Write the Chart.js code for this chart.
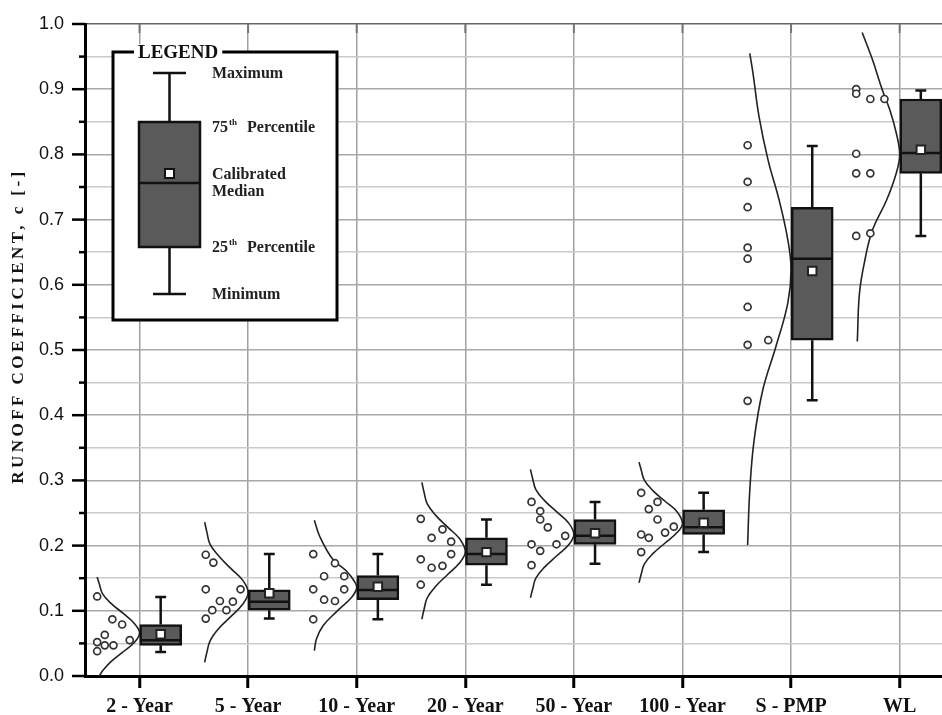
<!DOCTYPE html>
<html>
<head>
<meta charset="utf-8">
<script src="https://cdn.jsdelivr.net/npm/chart.js@4.4.1/dist/chart.umd.min.js"></script>
<style>
  html, body { margin: 0; padding: 0; background: #fff; }
  #wrap { width: 942px; height: 715px; position: relative; }
</style>
</head>
<body>
<div id="wrap"><canvas id="chartRunoff"></canvas></div>
<script>
// categories and tick labels
const categories = ["2 - Year", "5 - Year", "10 - Year", "20 - Year", "50 - Year", "100 - Year", "S - PMP", "WL"];
const yTickLabels = ["0.0", "0.1", "0.2", "0.3", "0.4", "0.5", "0.6", "0.7", "0.8", "0.9", "1.0"];

// box plot statistics
const boxMin = [0.037, 0.088, 0.087, 0.140, 0.172, 0.190, 0.423, 0.675];
const boxQ1 = [0.047, 0.101, 0.117, 0.170, 0.202, 0.217, 0.515, 0.771];
const boxMedian = [0.055, 0.114, 0.132, 0.187, 0.215, 0.228, 0.640, 0.802];
const boxQ3 = [0.079, 0.132, 0.154, 0.212, 0.240, 0.255, 0.719, 0.885];
const boxMax = [0.121, 0.187, 0.187, 0.240, 0.267, 0.281, 0.813, 0.898];
const calibratedMedian = [0.064, 0.127, 0.137, 0.190, 0.219, 0.235, 0.621, 0.807];

// observed values: [runoff coefficient, horizontal offset from category]
const obs2Year = [[0.122, -0.39], [0.087, -0.25], [0.079, -0.16], [0.063, -0.32], [0.055, -0.09], [0.052, -0.39], [0.047, -0.32], [0.047, -0.24], [0.038, -0.39]];
const obs5Year = [[0.186, -0.39], [0.174, -0.32], [0.133, -0.39], [0.133, -0.07], [0.115, -0.26], [0.114, -0.14], [0.101, -0.33], [0.101, -0.20], [0.088, -0.39]];
const obs10Year = [[0.187, -0.40], [0.173, -0.20], [0.153, -0.30], [0.153, -0.115], [0.133, -0.40], [0.133, -0.115], [0.117, -0.30], [0.115, -0.20], [0.087, -0.40]];
const obs20Year = [[0.241, -0.41], [0.225, -0.21], [0.212, -0.31], [0.206, -0.13], [0.187, -0.13], [0.179, -0.41], [0.169, -0.21], [0.166, -0.31], [0.140, -0.41]];
const obs50Year = [[0.267, -0.39], [0.253, -0.31], [0.240, -0.31], [0.228, -0.24], [0.215, -0.08], [0.202, -0.39], [0.202, -0.16], [0.192, -0.31], [0.170, -0.39]];
const obs100Year = [[0.281, -0.38], [0.267, -0.23], [0.256, -0.31], [0.240, -0.23], [0.229, -0.08], [0.220, -0.16], [0.217, -0.38], [0.212, -0.31], [0.190, -0.38]];
const obsSPMP = [[0.814, -0.40], [0.758, -0.40], [0.719, -0.40], [0.657, -0.40], [0.640, -0.40], [0.566, -0.40], [0.515, -0.21], [0.508, -0.40], [0.422, -0.40]];
const obsWL = [[0.900, -0.40], [0.893, -0.40], [0.885, -0.27], [0.885, -0.14], [0.801, -0.40], [0.771, -0.40], [0.771, -0.27], [0.679, -0.27], [0.675, -0.40]];

// fitted distribution outlines: [runoff coefficient, horizontal offset from category]
const curve2Year = [[0.152, -0.39], [0.141, -0.37], [0.126, -0.34], [0.111, -0.26], [0.096, -0.15], [0.081, -0.05], [0.066, 0], [0.051, -0.05], [0.036, -0.16], [0.021, -0.27], [0.008, -0.34], [0.0, -0.37]];
const curve5Year = [[0.236, -0.40], [0.221, -0.38], [0.202, -0.35], [0.184, -0.27], [0.165, -0.16], [0.147, -0.05], [0.128, 0], [0.110, -0.05], [0.091, -0.16], [0.073, -0.27], [0.054, -0.35], [0.036, -0.38], [0.021, -0.40]];
const curve10Year = [[0.239, -0.39], [0.214, -0.34], [0.179, -0.22], [0.161, -0.095], [0.145, -0.02], [0.135, 0], [0.120, -0.05], [0.098, -0.19], [0.077, -0.31], [0.057, -0.37], [0.039, -0.39]];
const curve20Year = [[0.297, -0.40], [0.282, -0.38], [0.264, -0.35], [0.246, -0.27], [0.228, -0.16], [0.210, -0.05], [0.191, 0], [0.174, -0.05], [0.156, -0.16], [0.138, -0.27], [0.120, -0.35], [0.102, -0.38], [0.087, -0.40]];
const curve50Year = [[0.317, -0.40], [0.303, -0.38], [0.286, -0.35], [0.269, -0.27], [0.252, -0.16], [0.235, -0.05], [0.217, 0], [0.201, -0.05], [0.184, -0.16], [0.167, -0.27], [0.150, -0.35], [0.133, -0.38], [0.120, -0.40]];
const curve100Year = [[0.328, -0.40], [0.316, -0.38], [0.300, -0.35], [0.284, -0.27], [0.268, -0.16], [0.252, -0.05], [0.234, 0], [0.220, -0.05], [0.204, -0.16], [0.188, -0.27], [0.172, -0.35], [0.156, -0.38], [0.143, -0.40]];
const curveSPMP = [[0.955, -0.38], [0.924, -0.35], [0.858, -0.295], [0.790, -0.21], [0.730, -0.11], [0.669, -0.03], [0.623, 0], [0.572, -0.03], [0.505, -0.14], [0.439, -0.26], [0.362, -0.34], [0.285, -0.38], [0.201, -0.40]];
const curveWL = [[0.987, -0.345], [0.945, -0.25], [0.899, -0.16], [0.868, -0.09], [0.832, -0.03], [0.800, 0], [0.772, -0.03], [0.730, -0.12], [0.684, -0.25], [0.638, -0.32], [0.587, -0.37], [0.513, -0.39]];

const observations = [obs2Year, obs5Year, obs10Year, obs20Year, obs50Year, obs100Year, obsSPMP, obsWL];
const curves = [curve2Year, curve5Year, curve10Year, curve20Year, curve50Year, curve100Year, curveSPMP, curveWL];

// layout of the boxes relative to each category tick
const BOX_SHIFT = 0.195;
const BOX_HALF = 0.19;
const CAP_HALF = 0.05;

const serif = "'Liberation Serif', 'DejaVu Serif', serif";

const pointData = [];
observations.forEach((obs, i) => obs.forEach(([v, dx]) => pointData.push({ x: i + dx, y: v })));

const curveData = [];
curves.forEach((c, i) => {
  c.forEach(([v, dx]) => curveData.push({ x: i + dx, y: v }));
  curveData.push({ x: i, y: null });
});

const boxData = categories.map((c, i) => ({ x: i + BOX_SHIFT, y: [boxQ1[i], boxQ3[i]] }));

const whiskerData = [];
const medianData = [];
categories.forEach((c, i) => {
  const x = i + BOX_SHIFT;
  whiskerData.push(
    { x: x, y: boxQ3[i] }, { x: x, y: boxMax[i] }, { x: x, y: null },
    { x: x - CAP_HALF, y: boxMax[i] }, { x: x + CAP_HALF, y: boxMax[i] }, { x: x, y: null },
    { x: x, y: boxQ1[i] }, { x: x, y: boxMin[i] }, { x: x, y: null },
    { x: x - CAP_HALF, y: boxMin[i] }, { x: x + CAP_HALF, y: boxMin[i] }, { x: x, y: null }
  );
  medianData.push({ x: x - BOX_HALF, y: boxMedian[i] }, { x: x + BOX_HALF, y: boxMedian[i] }, { x: x, y: null });
});

const meanData = categories.map((c, i) => ({ x: i + BOX_SHIFT, y: calibratedMedian[i] }));

// axis ticks, axis title and the inset legend
const decorPlugin = {
  id: "decor",
  afterDraw(chart) {
    const ctx = chart.ctx;
    const area = chart.chartArea;
    const yScale = chart.scales.y;
    const xScale = chart.scales.x;

    ctx.save();
    // y axis ticks (major and minor)
    ctx.strokeStyle = "#000";
    ctx.lineWidth = 2.5;
    yScale.ticks.forEach((t, i) => {
      const py = yScale.getPixelForValue(t.value);
      const len = i % 2 === 0 ? 13 : 6;
      ctx.beginPath();
      ctx.moveTo(area.left - len, py);
      ctx.lineTo(area.left, py);
      ctx.stroke();
    });
    // small ticks along the top frame
    ctx.strokeStyle = "#777";
    ctx.lineWidth = 2;
    categories.forEach((c, i) => {
      const px = xScale.getPixelForValue(i);
      ctx.beginPath();
      ctx.moveTo(px, area.top);
      ctx.lineTo(px, area.top + 9);
      ctx.stroke();
    });

    // y axis title
    ctx.fillStyle = "#111";
    ctx.font = "bold 17px " + serif;
    const title = "RUNOFF COEFFICIENT, c [-]";
    const w = ctx.measureText(title).width;
    ctx.letterSpacing = Math.max(0, (312 - w) / (title.length - 1)).toFixed(2) + "px";
    ctx.translate(19, 326);
    ctx.rotate(-Math.PI / 2);
    ctx.textAlign = "center";
    ctx.textBaseline = "middle";
    ctx.fillText(title, 0, 0);
    ctx.restore();

    // legend frame
    ctx.save();
    ctx.strokeStyle = "#000";
    ctx.lineWidth = 3;
    ctx.fillStyle = "#fff";
    ctx.fillRect(113, 52, 224, 268);
    ctx.strokeRect(113, 52, 224, 268);
    ctx.font = "bold 19px " + serif;
    const lw = ctx.measureText("LEGEND").width;
    ctx.fillRect(134, 44, lw + 8, 14);
    ctx.fillStyle = "#111";
    ctx.textAlign = "left";
    ctx.textBaseline = "middle";
    ctx.fillText("LEGEND", 138, 53);

    // legend box plot
    ctx.strokeStyle = "#111";
    ctx.lineWidth = 2.5;
    ctx.beginPath();
    ctx.moveTo(169.5, 122); ctx.lineTo(169.5, 73);
    ctx.moveTo(153, 73); ctx.lineTo(186, 73);
    ctx.moveTo(169.5, 247); ctx.lineTo(169.5, 294);
    ctx.moveTo(153, 294); ctx.lineTo(186, 294);
    ctx.stroke();
    ctx.fillStyle = "#5a5a5a";
    ctx.fillRect(139, 122, 61, 125);
    ctx.strokeRect(139, 122, 61, 125);
    ctx.beginPath();
    ctx.moveTo(139, 183); ctx.lineTo(200, 183);
    ctx.stroke();
    ctx.fillStyle = "#fff";
    ctx.lineWidth = 2;
    ctx.fillRect(165, 169, 9, 9);
    ctx.strokeRect(165, 169, 9, 9);

    // legend labels
    ctx.fillStyle = "#222";
    ctx.font = "bold 16px " + serif;
    ctx.fillText("Maximum", 212, 74);
    ctx.fillText("Calibrated", 212, 175);
    ctx.fillText("Median", 212, 192);
    ctx.fillText("Minimum", 212, 295);
    [["75", 128], ["25", 248]].forEach(([num, py]) => {
      ctx.font = "bold 16px " + serif;
      ctx.fillText(num, 212, py);
      const nw = ctx.measureText(num).width;
      ctx.font = "bold 9px " + serif;
      ctx.fillText("th", 212 + nw + 1, py - 5);
      ctx.font = "bold 16px " + serif;
      ctx.fillText("Percentile", 247, py);
    });
    ctx.restore();
  },
};

const chartRunoff = new Chart(document.querySelector("#chartRunoff"), {
  type: "bar",
  data: {
    datasets: [
      {
        type: "line",
        data: curveData,
        borderColor: "#222",
        borderWidth: 1.6,
        pointRadius: 0,
        tension: 0.4,
        order: 6,
      },
      {
        type: "scatter",
        data: pointData,
        pointStyle: "circle",
        pointRadius: 3.5,
        borderWidth: 1.7,
        borderColor: "#333",
        backgroundColor: "#fff",
        order: 5,
      },
      {
        type: "line",
        data: whiskerData,
        borderColor: "#111",
        borderWidth: 2.5,
        pointRadius: 0,
        tension: 0,
        order: 4,
      },
      {
        type: "bar",
        data: boxData,
        backgroundColor: "#5a5a5a",
        borderColor: "#111",
        borderWidth: 2.5,
        borderSkipped: false,
        barThickness: 42,
        grouped: false,
        order: 3,
      },
      {
        type: "line",
        data: medianData,
        borderColor: "#111",
        borderWidth: 2.5,
        pointRadius: 0,
        tension: 0,
        order: 2,
      },
      {
        type: "scatter",
        data: meanData,
        pointStyle: "rect",
        pointRadius: 6,
        borderWidth: 2,
        borderColor: "#222",
        backgroundColor: "#fff",
        order: 1,
      },
    ],
  },
  options: {
    responsive: true,
    maintainAspectRatio: false,
    animation: false,
    layout: { autoPadding: false, padding: { top: 24, right: 0, left: 0, bottom: 0 } },
    plugins: {
      legend: { display: false },
      tooltip: { enabled: false },
    },
    scales: {
      x: {
        type: "linear",
        min: -0.502,
        max: 7.39,
        offset: false,
        afterBuildTicks: (scale) => {
          scale.ticks = categories.map((c, i) => ({ value: i }));
        },
        afterFit: (scale) => {
          scale.height = 39;
          scale.paddingLeft = 0;
          scale.paddingRight = 0;
        },
        ticks: {
          autoSkip: false,
          maxRotation: 0,
          padding: 7,
          color: "#111",
          font: { family: serif, size: 20, weight: "bold" },
          callback: (value) => categories[Math.round(value)],
        },
        grid: {
          offset: false,
          color: "#a0a0a0",
          lineWidth: 1.5,
          drawTicks: true,
          tickLength: 12,
          tickColor: "#000",
          tickWidth: 3,
        },
        border: { display: true, color: "#000", width: 3 },
      },
      y: {
        type: "linear",
        min: 0,
        max: 1,
        afterFit: (scale) => {
          scale.width = 85;
          scale.paddingTop = 0;
          scale.paddingBottom = 0;
        },
        ticks: {
          stepSize: 0.05,
          autoSkip: false,
          padding: 21,
          color: "#111",
          font: { family: "'Liberation Sans', Arial, sans-serif", size: 18 },
          callback: (value, index) => (index % 2 === 0 ? yTickLabels[index / 2] : ""),
        },
        grid: {
          drawTicks: false,
          lineWidth: 1.5,
          color: (ctx) => {
            if (ctx.index === 20) return "#666";
            return ctx.index % 2 === 0 ? "#a8a8a8" : "#cacaca";
          },
        },
        border: { display: true, color: "#000", width: 3 },
      },
    },
  },
  plugins: [decorPlugin],
});
</script>
</body>
</html>
